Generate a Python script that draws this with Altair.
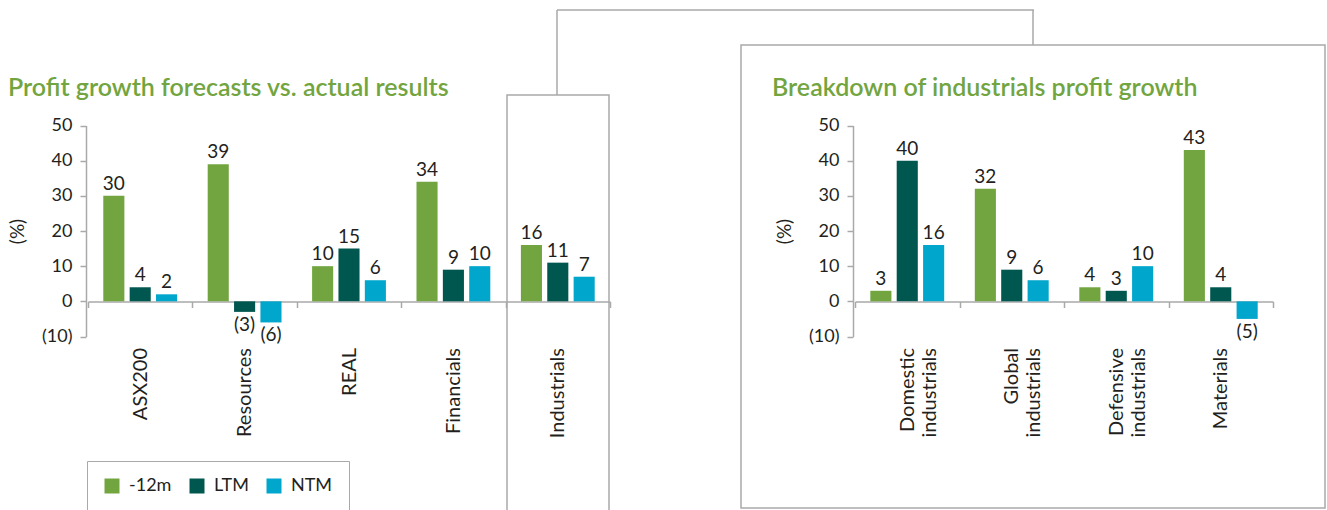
import altair as alt
import pandas as pd

# ---------------- data ----------------
left_categories = ["ASX200", "Resources", "REAL", "Financials", "Industrials"]
right_categories = ["Domestic industrials", "Global industrials", "Defensive industrials", "Materials"]
series = ["-12m", "LTM", "NTM"]

left_m12 = [30, 39, 10, 34, 16]
left_ltm = [4, -3, 15, 9, 11]
left_ntm = [2, -6, 6, 10, 7]

right_m12 = [3, 32, 4, 43]
right_ltm = [40, 9, 3, 4]
right_ntm = [16, 6, 10, -5]

y_ticks = [-10, 0, 10, 20, 30, 40, 50]
colors = ["#72A540", "#00574F", "#00A6CC"]

left_title = "Profit growth forecasts vs. actual results"
right_title = "Breakdown of industrials profit growth"
y_title = "(%)"

FONT = "Lato"
GRAY = "#A9A9A9"
TXT = "#231F20"
GREEN = "#72A540"


def frame(cats, vals):
    rows = []
    for i, c in enumerate(cats):
        for s, v in zip(series, vals):
            rows.append({"category": c, "series": s, "value": v[i]})
    return pd.DataFrame(rows)


left_df = frame(left_categories, [left_m12, left_ltm, left_ntm])
right_df = frame(right_categories, [right_m12, right_ltm, right_ntm])
decor_df = pd.DataFrame({"k": [0]})

# ---------------- shared pieces ----------------
y_scale = alt.Scale(domain=[-10, 50], range=[336.5, 125.5], nice=False, zero=False)
off_scale = alt.Scale(domain=series, paddingInner=0.2, paddingOuter=0.58)
color_enc = alt.Color(
    "series:N",
    sort=series,
    scale=alt.Scale(domain=series, range=colors),
    legend=alt.Legend(
        orient="none", legendX=87, legendY=461, direction="horizontal", title=None,
        symbolType="square", symbolSize=225, symbolStrokeWidth=0,
        labelFont=FONT, labelFontSize=18, labelColor=TXT, labelOffset=8,
        columnPadding=16, padding=16, strokeColor=GRAY, fillColor="white",
    ),
)
label_calc = "datum.value < 0 ? '(' + abs(datum.value) + ')' : '' + datum.value"


def y_axis(offset):
    return alt.Axis(
        orient="left", offset=offset, values=y_ticks, grid=False,
        labelExpr="datum.value < 0 ? '(' + abs(datum.value) + ')' : datum.label",
        labelFont=FONT, labelFontSize=18, labelColor=TXT, labelPadding=8,
        tickSize=6, tickColor=GRAY, domainColor=GRAY, domainWidth=1.5, tickWidth=1.5,
        title=y_title, titleFont=FONT, titleFontSize=19, titleFontWeight="normal",
        titleColor=TXT, titlePadding=14,
    )


def x_axis(label_expr=None):
    kw = dict(
        orient="bottom", offset=-(510 - 301.5), title=None, grid=False,
        labelAngle=-90, labelAlign="right", labelBaseline="middle",
        labelFont=FONT, labelFontSize=20, labelColor=TXT, labelPadding=40,
        labelLineHeight=22, tickBand="extent", tickSize=6, tickColor=GRAY,
        domainColor=GRAY, domainWidth=1.5, tickWidth=1.5,
    )
    if label_expr:
        kw["labelExpr"] = label_expr
    return alt.Axis(**kw)


def panel(df, cats, xrange, yoffset, label_expr=None):
    xs = alt.Scale(domain=cats, range=xrange, paddingInner=0, paddingOuter=0)
    xa = x_axis(label_expr)
    ya = y_axis(yoffset)
    base = alt.Chart(df).transform_calculate(label=label_calc)
    enc = dict(
        x=alt.X("category:N", sort=cats, scale=xs, axis=xa),
        xOffset=alt.XOffset("series:N", sort=series, scale=off_scale),
        y=alt.Y("value:Q", scale=y_scale, axis=ya),
    )
    bars = base.mark_bar().encode(color=color_enc, **enc)
    pos = base.transform_filter("datum.value >= 0").mark_text(
        baseline="alphabetic", dy=-6, font=FONT, fontSize=19, color=TXT
    ).encode(text="label:N", **enc)
    neg = base.transform_filter("datum.value < 0").mark_text(
        baseline="top", dy=4, font=FONT, fontSize=19, color=TXT
    ).encode(text="label:N", **enc)
    return alt.layer(bars, pos, neg)


left = panel(left_df, left_categories, [88, 610], -86)
right = panel(right_df, right_categories, [855, 1273], -853, "split(datum.label, ' ')")

# ---------------- decorations ----------------
dec = alt.Chart(decor_df)
line_style = dict(color=GRAY, strokeWidth=1.5)
box_style = dict(fillOpacity=0, stroke=GRAY, strokeWidth=1.5)

ind_box = dec.mark_rect(**box_style).encode(
    x=alt.value(507), x2=alt.value(609), y=alt.value(95), y2=alt.value(540)
)
conn1 = dec.mark_rule(**line_style).encode(x=alt.value(557), y=alt.value(95), y2=alt.value(10))
conn2 = dec.mark_rule(**line_style).encode(x=alt.value(557), x2=alt.value(1034), y=alt.value(10))
conn3 = dec.mark_rule(**line_style).encode(x=alt.value(1033), y=alt.value(10), y2=alt.value(45))
right_box = dec.mark_rect(**box_style).encode(
    x=alt.value(741), x2=alt.value(1325), y=alt.value(45), y2=alt.value(508)
)
t_left = dec.mark_text(
    align="left", baseline="alphabetic", font=FONT, fontSize=25, color=GREEN, fontWeight=600
).encode(x=alt.value(8), y=alt.value(96), text=alt.value(left_title))
t_right = dec.mark_text(
    align="left", baseline="alphabetic", font=FONT, fontSize=25, color=GREEN, fontWeight=600
).encode(x=alt.value(772), y=alt.value(96), text=alt.value(right_title))

chart = (
    alt.layer(ind_box, conn1, conn2, conn3, right_box, t_left, t_right, left, right)
    .resolve_scale(x="independent", y="independent", xOffset="independent")
    .properties(width=1327, height=510, autosize=alt.AutoSizeParams(type="none"), padding=0)
    .configure_view(strokeWidth=0)
)

chart.save("out.html", embed_options={"renderer": "svg", "actions": False})
